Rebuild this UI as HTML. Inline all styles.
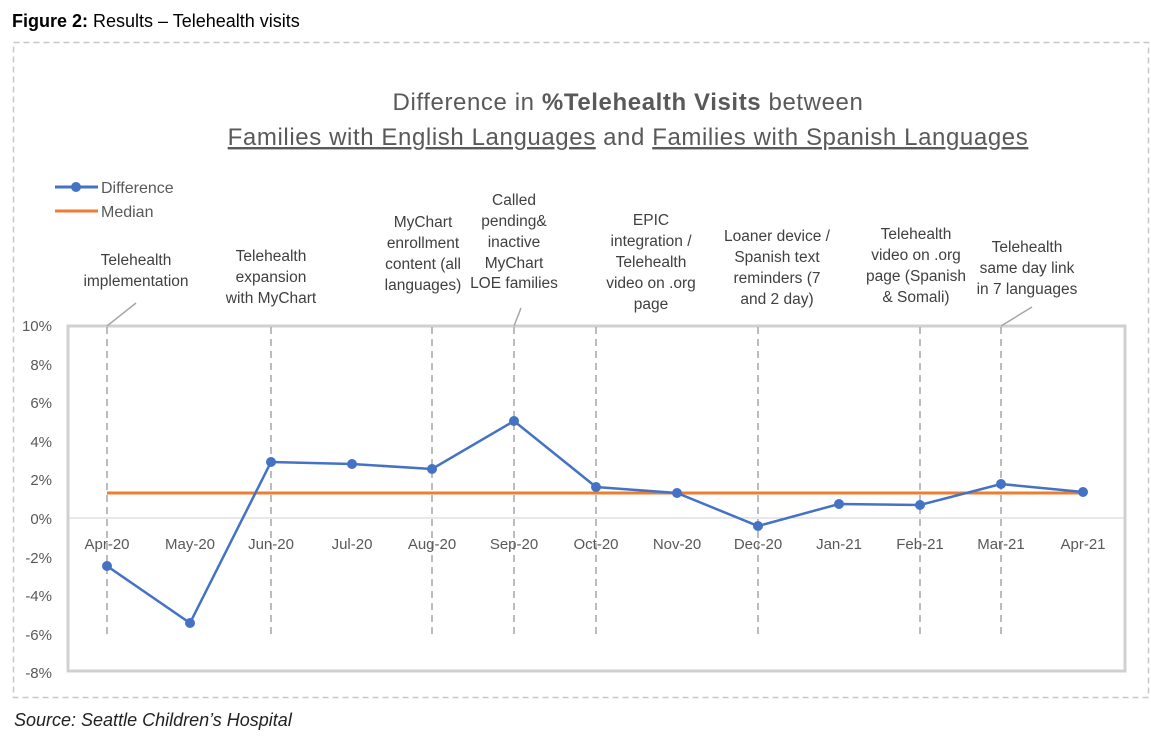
<!DOCTYPE html>
<html><head><meta charset="utf-8"><style>
body{margin:0;background:#fff;width:1151px;height:745px;overflow:hidden}
svg{display:block}
</style></head><body>
<svg width="1151" height="745" xmlns="http://www.w3.org/2000/svg" font-family="Liberation Sans, sans-serif">
<text x="12" y="27" font-size="18" fill="#000"><tspan font-weight="bold">Figure 2:</tspan> Results – Telehealth visits</text>
<rect x="13.5" y="42.5" width="1135" height="655" fill="none" stroke="#c8c8c8" stroke-width="1.5" stroke-dasharray="6,4"/>
<text x="14" y="726" font-size="18" font-style="italic" fill="#222">Source: Seattle Children’s Hospital</text>
<g fill="#595959" font-size="24" text-anchor="middle" letter-spacing="0.6">
<text x="628" y="110">Difference in <tspan font-weight="bold">%Telehealth Visits</tspan> between</text>
<text x="628" y="145"><tspan text-decoration="underline">Families with English Languages</tspan> and <tspan text-decoration="underline">Families with Spanish Languages</tspan></text>
</g>
<line x1="55" y1="187" x2="98" y2="187" stroke="#4472c4" stroke-width="3"/>
<circle cx="76" cy="187" r="5" fill="#4472c4"/>
<line x1="55" y1="211" x2="98" y2="211" stroke="#ed7d31" stroke-width="3"/>
<text x="101" y="193" font-size="16" fill="#595959">Difference</text>
<text x="101" y="217" font-size="16" fill="#595959">Median</text>
<rect x="68" y="326" width="1057" height="345" fill="none" stroke="#d0d0d0" stroke-width="3"/>
<line x1="68" y1="518" x2="1125" y2="518" stroke="#d0d0d0" stroke-width="1"/>
<g font-size="15" fill="#595959" text-anchor="end">
<text x="52" y="331">10%</text><text x="52" y="370">8%</text><text x="52" y="408">6%</text><text x="52" y="447">4%</text><text x="52" y="485">2%</text><text x="52" y="524">0%</text><text x="52" y="563">-2%</text><text x="52" y="601">-4%</text><text x="52" y="640">-6%</text><text x="52" y="678">-8%</text>
</g>
<g stroke="#a6a6a6" stroke-width="1.5" stroke-dasharray="7,5">
<line x1="107" y1="327" x2="107" y2="634"/><line x1="271" y1="327" x2="271" y2="634"/><line x1="432" y1="327" x2="432" y2="634"/><line x1="514" y1="327" x2="514" y2="634"/><line x1="596" y1="327" x2="596" y2="634"/><line x1="758" y1="327" x2="758" y2="634"/><line x1="920" y1="327" x2="920" y2="634"/><line x1="1001" y1="327" x2="1001" y2="634"/>
</g>
<g stroke="#a6a6a6" stroke-width="1.5">
<line x1="107" y1="326" x2="136" y2="303"/><line x1="514" y1="326" x2="521" y2="308"/><line x1="1001" y1="326" x2="1032" y2="307"/>
</g>
<g font-size="15" fill="#595959" text-anchor="middle">
<text x="107" y="549">Apr-20</text><text x="190" y="549">May-20</text><text x="271" y="549">Jun-20</text><text x="352" y="549">Jul-20</text><text x="432" y="549">Aug-20</text><text x="514" y="549">Sep-20</text><text x="596" y="549">Oct-20</text><text x="677" y="549">Nov-20</text><text x="758" y="549">Dec-20</text><text x="839" y="549">Jan-21</text><text x="920" y="549">Feb-21</text><text x="1001" y="549">Mar-21</text><text x="1083" y="549">Apr-21</text>
</g>
<g font-size="15.5" fill="#404040" text-anchor="middle">
<text x="136" y="265">Telehealth</text><text x="136" y="286">implementation</text>
<text x="271" y="261">Telehealth</text><text x="271" y="282">expansion</text><text x="271" y="303">with MyChart</text>
<text x="423" y="227">MyChart</text><text x="423" y="248">enrollment</text><text x="423" y="269">content (all</text><text x="423" y="290">languages)</text>
<text x="514" y="205">Called</text><text x="514" y="226">pending&amp;</text><text x="514" y="247">inactive</text><text x="514" y="268">MyChart</text><text x="514" y="288">LOE families</text>
<text x="651" y="225">EPIC</text><text x="651" y="246">integration /</text><text x="651" y="267">Telehealth</text><text x="651" y="288">video on .org</text><text x="651" y="309">page</text>
<text x="777" y="241">Loaner device /</text><text x="777" y="262">Spanish text</text><text x="777" y="283">reminders (7</text><text x="777" y="304">and 2 day)</text>
<text x="916" y="239">Telehealth</text><text x="916" y="260">video on .org</text><text x="916" y="281">page (Spanish</text><text x="916" y="302">&amp; Somali)</text>
<text x="1027" y="252">Telehealth</text><text x="1027" y="273">same day link</text><text x="1027" y="294">in 7 languages</text>
</g>
<line x1="107" y1="493" x2="1083" y2="493" stroke="#ed7d31" stroke-width="3"/>
<polyline fill="none" stroke="#4472c4" stroke-width="2.5" points="107,566 190,623 271,462 352,464 432,469 514,421 596,487 677,493 758,526 839,504 920,505 1001,484 1083,492"/>
<g fill="#4472c4">
<circle cx="107" cy="566" r="5"/><circle cx="190" cy="623" r="5"/><circle cx="271" cy="462" r="5"/><circle cx="352" cy="464" r="5"/><circle cx="432" cy="469" r="5"/><circle cx="514" cy="421" r="5"/><circle cx="596" cy="487" r="5"/><circle cx="677" cy="493" r="5"/><circle cx="758" cy="526" r="5"/><circle cx="839" cy="504" r="5"/><circle cx="920" cy="505" r="5"/><circle cx="1001" cy="484" r="5"/><circle cx="1083" cy="492" r="5"/>
</g>
</svg>
</body></html>
